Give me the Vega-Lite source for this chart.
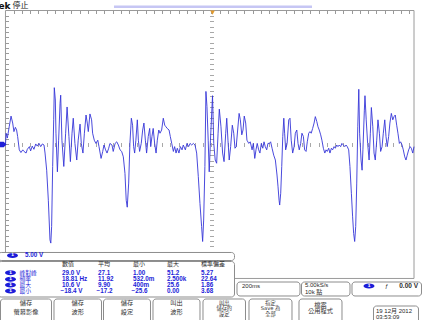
{
"$schema": "https://vega.github.io/schema/vega-lite/v6.json",
"width": 424, "height": 320, "autosize": "none", "padding": 0,
"background": "white",
"config": {"view": {"stroke": null}, "text": {"font": "DejaVu Sans, Noto Sans CJK TC"}},
"datasets": {
"vgrid": [{"t":-800},{"t":-600},{"t":-400},{"t":-200},{"t":0},{"t":200},{"t":400},{"t":600},{"t":800}],
"hgrid": [{"v":20},{"v":15},{"v":10},{"v":5},{"v":-5},{"v":-10},{"v":-15},{"v":-20}],
"hcenter": [{"v":0}],
"frame": [{"t":-1000,"t2":983,"v":25,"v2":-25}],
"bar": [{"t":-473.3,"t2":487.8,"v":25.71}],
"trig": [{"t":4.9,"v":24.6}],
"gnd": [{"t":-1014.5,"v":0}],
"wave": [
{"t":-1000,"v":-0.1},{"t":-997,"v":2.1},{"t":-991,"v":1.2},{"t":-982,"v":3.3},{"t":-973,"v":5.3},{"t":-965,"v":4.0},{"t":-959,"v":2.4},{"t":-952,"v":3.2},{"t":-946,"v":2.7},{"t":-941,"v":1.5},{"t":-933,"v":-1.0},{"t":-925,"v":-1.5},{"t":-916,"v":-1.0},{"t":-910,"v":-1.3},{"t":-900,"v":-1.6},{"t":-894,"v":-0.9},{"t":-884,"v":-0.4},{"t":-878,"v":-1.2},{"t":-870,"v":-0.3},{"t":-862,"v":-0.9},{"t":-853,"v":0.1},{"t":-846,"v":-0.3},{"t":-837,"v":0.2},{"t":-829,"v":-0.4},{"t":-821,"v":0.1},{"t":-813,"v":-0.1},{"t":-808,"v":-1.6},{"t":-800,"v":-4.8},{"t":-792,"v":-10.4},{"t":-784,"v":-17.8},{"t":-780,"v":-18.4},{"t":-776,"v":-15.3},{"t":-771,"v":-4.1},{"t":-766,"v":4.6},{"t":-763,"v":10.6},{"t":-758,"v":8.3},{"t":-755,"v":2.1},{"t":-748,"v":-5.1},{"t":-742,"v":0.8},{"t":-735,"v":7.7},{"t":-732,"v":9.2},{"t":-726,"v":0.8},{"t":-717,"v":-4.1},{"t":-708,"v":2.1},{"t":-701,"v":7.0},{"t":-692,"v":1.5},{"t":-685,"v":-3.2},{"t":-677,"v":2.1},{"t":-671,"v":4.9},{"t":-663,"v":0.2},{"t":-654,"v":-2.9},{"t":-647,"v":0.8},{"t":-638,"v":3.8},{"t":-632,"v":0.2},{"t":-624,"v":-1.6},{"t":-617,"v":2.1},{"t":-609,"v":5.5},{"t":-603,"v":4.0},{"t":-598,"v":2.4},{"t":-590,"v":5.7},{"t":-582,"v":4.6},{"t":-577,"v":2.1},{"t":-569,"v":0.8},{"t":-561,"v":0.2},{"t":-552,"v":0.8},{"t":-546,"v":-0.4},{"t":-536,"v":-2.6},{"t":-528,"v":-1.3},{"t":-522,"v":-0.1},{"t":-514,"v":-1.0},{"t":-507,"v":-1.6},{"t":-499,"v":-0.7},{"t":-493,"v":0.2},{"t":-483,"v":-0.1},{"t":-477,"v":-1.3},{"t":-468,"v":0.2},{"t":-460,"v":0.5},{"t":-452,"v":-0.1},{"t":-444,"v":-1.0},{"t":-436,"v":-1.3},{"t":-428,"v":-2.3},{"t":-420,"v":-5.4},{"t":-414,"v":-10.4},{"t":-409,"v":-11.7},{"t":-402,"v":-7.2},{"t":-396,"v":0.2},{"t":-389,"v":4.9},{"t":-383,"v":3.6},{"t":-378,"v":-0.4},{"t":-373,"v":-1.6},{"t":-367,"v":0.8},{"t":-360,"v":4.6},{"t":-355,"v":0.8},{"t":-349,"v":-1.3},{"t":-341,"v":0.2},{"t":-334,"v":2.7},{"t":-328,"v":4.0},{"t":-321,"v":0.8},{"t":-315,"v":-1.6},{"t":-307,"v":1.5},{"t":-300,"v":3.0},{"t":-295,"v":-0.4},{"t":-289,"v":1.5},{"t":-283,"v":3.0},{"t":-276,"v":0.2},{"t":-269,"v":-1.6},{"t":-263,"v":0.8},{"t":-256,"v":2.7},{"t":-250,"v":2.1},{"t":-242,"v":2.7},{"t":-234,"v":4.9},{"t":-227,"v":3.6},{"t":-221,"v":3.3},{"t":-215,"v":3.0},{"t":-206,"v":2.7},{"t":-200,"v":1.5},{"t":-193,"v":0.2},{"t":-185,"v":-1.3},{"t":-179,"v":-0.4},{"t":-172,"v":-1.6},{"t":-166,"v":-0.7},{"t":-158,"v":-1.6},{"t":-151,"v":-0.4},{"t":-143,"v":-1.0},{"t":-137,"v":-0.1},{"t":-127,"v":-1.0},{"t":-119,"v":0.2},{"t":-111,"v":-0.4},{"t":-104,"v":0.2},{"t":-96,"v":-0.1},{"t":-88,"v":0.2},{"t":-80,"v":-0.1},{"t":-72,"v":-1.6},{"t":-64,"v":-6.0},{"t":-56,"v":-11.0},{"t":-48,"v":-15.3},{"t":-43,"v":-18.1},{"t":-38,"v":-14.1},{"t":-32,"v":-4.1},{"t":-27,"v":9.9},{"t":-22,"v":7.1},{"t":-16,"v":0.8},{"t":-11,"v":-5.1},{"t":-5,"v":0.8},{"t":5,"v":9.1},{"t":11,"v":0.2},{"t":18,"v":-2.9},{"t":25,"v":-3.5},{"t":32,"v":2.1},{"t":38,"v":6.6},{"t":46,"v":3.3},{"t":54,"v":-1.6},{"t":61,"v":-3.2},{"t":69,"v":2.1},{"t":74,"v":4.9},{"t":80,"v":0.8},{"t":86,"v":-2.9},{"t":93,"v":-0.4},{"t":101,"v":3.6},{"t":108,"v":2.1},{"t":114,"v":-0.7},{"t":120,"v":-0.4},{"t":127,"v":2.7},{"t":134,"v":5.8},{"t":140,"v":4.6},{"t":147,"v":1.8},{"t":153,"v":2.7},{"t":159,"v":5.3},{"t":166,"v":4.0},{"t":172,"v":0.8},{"t":181,"v":0.2},{"t":188,"v":0.5},{"t":197,"v":-1.0},{"t":203,"v":0.2},{"t":210,"v":-2.6},{"t":216,"v":-1.0},{"t":222,"v":0.2},{"t":229,"v":-1.0},{"t":235,"v":-1.6},{"t":242,"v":0.2},{"t":249,"v":-0.7},{"t":255,"v":0.5},{"t":261,"v":-0.4},{"t":268,"v":-1.0},{"t":274,"v":0.2},{"t":281,"v":0.2},{"t":287,"v":0.5},{"t":294,"v":-0.7},{"t":302,"v":-2.0},{"t":310,"v":-2.9},{"t":318,"v":-5.7},{"t":323,"v":-7.9},{"t":328,"v":-10.4},{"t":331,"v":-11.3},{"t":336,"v":-9.1},{"t":341,"v":-4.1},{"t":346,"v":1.5},{"t":351,"v":4.9},{"t":355,"v":2.1},{"t":360,"v":-1.0},{"t":367,"v":0.2},{"t":375,"v":4.6},{"t":381,"v":4.9},{"t":387,"v":0.8},{"t":394,"v":-1.6},{"t":401,"v":-0.4},{"t":407,"v":2.1},{"t":414,"v":2.7},{"t":420,"v":0.2},{"t":426,"v":-1.0},{"t":433,"v":0.2},{"t":439,"v":2.1},{"t":446,"v":1.5},{"t":452,"v":-1.0},{"t":459,"v":-1.3},{"t":465,"v":0.5},{"t":472,"v":2.1},{"t":478,"v":2.4},{"t":484,"v":2.1},{"t":491,"v":3.0},{"t":498,"v":4.0},{"t":504,"v":5.2},{"t":511,"v":4.3},{"t":517,"v":3.3},{"t":523,"v":2.7},{"t":530,"v":1.8},{"t":536,"v":0.8},{"t":543,"v":-0.7},{"t":550,"v":-1.6},{"t":556,"v":-1.0},{"t":562,"v":-1.3},{"t":569,"v":-0.7},{"t":575,"v":-1.6},{"t":582,"v":-0.7},{"t":588,"v":-1.0},{"t":595,"v":-0.4},{"t":601,"v":-0.7},{"t":608,"v":-0.1},{"t":614,"v":-0.4},{"t":620,"v":-0.1},{"t":627,"v":-0.4},{"t":633,"v":0.2},{"t":640,"v":-0.1},{"t":647,"v":-0.4},{"t":653,"v":-0.1},{"t":659,"v":-0.4},{"t":666,"v":-1.0},{"t":672,"v":-4.1},{"t":679,"v":-9.1},{"t":685,"v":-13.5},{"t":690,"v":-16.6},{"t":695,"v":-18.1},{"t":700,"v":-15.3},{"t":705,"v":-7.2},{"t":710,"v":3.3},{"t":715,"v":10.3},{"t":719,"v":2.1},{"t":726,"v":-2.9},{"t":731,"v":-4.8},{"t":735,"v":-1.0},{"t":742,"v":6.4},{"t":745,"v":9.1},{"t":751,"v":4.6},{"t":758,"v":0.2},{"t":765,"v":-2.9},{"t":771,"v":2.1},{"t":776,"v":6.9},{"t":783,"v":3.3},{"t":789,"v":-1.6},{"t":795,"v":-2.9},{"t":802,"v":0.8},{"t":808,"v":4.6},{"t":815,"v":2.1},{"t":821,"v":-1.3},{"t":828,"v":-0.4},{"t":834,"v":2.1},{"t":841,"v":4.6},{"t":847,"v":1.5},{"t":853,"v":-0.4},{"t":860,"v":1.5},{"t":866,"v":4.0},{"t":873,"v":5.8},{"t":880,"v":4.6},{"t":886,"v":5.2},{"t":892,"v":5.5},{"t":899,"v":3.6},{"t":905,"v":2.1},{"t":912,"v":0.2},{"t":918,"v":0.5},{"t":925,"v":-0.1},{"t":931,"v":-1.0},{"t":938,"v":-2.3},{"t":944,"v":-2.9},{"t":950,"v":-2.0},{"t":957,"v":-1.0},{"t":964,"v":-0.4},{"t":970,"v":-0.7},{"t":977,"v":-1.6},{"t":983,"v":-0.4}
],
"boxes": [
{"t":-1035,"t2":111.6,"v":-20.15,"v2":-21.65},
{"t":-1035,"t2":111.6,"v":-21.83,"v2":-28.46},
{"t":123.8,"t2":429.6,"v":-25.66,"v2":-28.27},
{"t":436.9,"t2":672.3,"v":-25.66,"v2":-28.27},
{"t":682.0,"t2":1019.3,"v":-25.66,"v2":-28.27},
{"t":-1024.2,"t2":-776.6,"v":-28.83,"v2":-33.6},
{"t":-764.5,"t2":-533.9,"v":-28.83,"v2":-33.6},
{"t":-524.2,"t2":-296.1,"v":-28.83,"v2":-33.6},
{"t":-284.0,"t2":-55.8,"v":-28.83,"v2":-33.6},
{"t":-41.3,"t2":165.0,"v":-28.83,"v2":-33.6},
{"t":182.0,"t2":390.7,"v":-28.83,"v2":-33.6},
{"t":424.7,"t2":633.4,"v":-28.83,"v2":-33.6},
{"t":786.3,"t2":1004.8,"v":-30.14,"v2":-33.6}
],
"ellipses": [
{"t":-966,"v":-20.71},{"t":-975.7,"v":-23.92},{"t":-975.7,"v":-25.15},{"t":-975.7,"v":-26.22},{"t":-975.7,"v":-27.34},{"t":764.5,"v":-26.4}
],
"darkLeft": [
{"t":-725.7,"v":-22.39,"s":"數值"},{"t":-550.9,"v":-22.39,"s":"平均"},{"t":-381.0,"v":-22.39,"s":"最小"},{"t":-216.0,"v":-22.39,"s":"最大"},{"t":-51.0,"v":-22.39,"s":"標準偏差"},
{"t":148.0,"v":-26.4,"s":"200ms"},{"t":453.8,"v":-26.27,"s":"5.00kS/s"},{"t":453.8,"v":-27.58,"s":"10k 點"},{"t":842.2,"v":-26.4,"s":"ƒ"},
{"t":798.5,"v":-30.98,"s":"19 12月 2012"},{"t":798.5,"v":-32.10,"s":"03:53:09"}
],
"darkRight": [{"t":1002.4,"v":-26.4,"s":"0.00 V"}],
"btn2": [
{"t":-900.4,"v":-29.67,"s":"儲存"},{"t":-900.4,"v":-31.35,"s":"螢幕影像"},
{"t":-649.2,"v":-29.67,"s":"儲存"},{"t":-649.2,"v":-31.35,"s":"波形"},
{"t":-410.2,"v":-29.67,"s":"儲存"},{"t":-410.2,"v":-31.35,"s":"設定"},
{"t":-169.9,"v":-29.67,"s":"叫出"},{"t":-169.9,"v":-31.35,"s":"波形"},
{"t":529.1,"v":-29.86,"s":"檔案"},{"t":529.1,"v":-31.07,"s":"公用程式"}
],
"btn3": [
{"t":61.9,"v":-29.58,"s":"叫出"},{"t":61.9,"v":-30.6,"s":"儲存的"},{"t":61.9,"v":-31.63,"s":"設定"},
{"t":286.4,"v":-29.58,"s":"指定"},{"t":286.4,"v":-30.6,"s":"Save 為"},{"t":286.4,"v":-31.63,"s":"全部"}
],
"blueLabels": [
{"t":-931.9,"v":-23.92,"s":"峰對峰"},{"t":-931.9,"v":-25.15,"s":"頻率"},{"t":-931.9,"v":-26.22,"s":"最大"},{"t":-931.9,"v":-27.34,"s":"最小"}
],
"blueValues": [
{"t":-905.3,"v":-20.71,"s":"5.00 V"},
{"t":-725.7,"v":-23.92,"s":"29.0 V"},{"t":-550.9,"v":-23.92,"s":"27.1"},{"t":-381.0,"v":-23.92,"s":"1.00"},{"t":-216.0,"v":-23.92,"s":"51.2"},{"t":-51.0,"v":-23.92,"s":"5.27"},
{"t":-725.7,"v":-25.15,"s":"18.81 Hz"},{"t":-550.9,"v":-25.15,"s":"11.92"},{"t":-381.0,"v":-25.15,"s":"532.0m"},{"t":-216.0,"v":-25.15,"s":"2.500k"},{"t":-51.0,"v":-25.15,"s":"22.64"},
{"t":-725.7,"v":-26.22,"s":"10.6 V"},{"t":-550.9,"v":-26.22,"s":"9.90"},{"t":-381.0,"v":-26.22,"s":"400m"},{"t":-216.0,"v":-26.22,"s":"25.6"},{"t":-51.0,"v":-26.22,"s":"1.86"},
{"t":-733,"v":-27.34,"s":"−18.4 V"},{"t":-558,"v":-27.34,"s":"−17.2"},{"t":-388,"v":-27.34,"s":"−25.6"},{"t":-216.0,"v":-27.34,"s":"0.00"},{"t":-51.0,"v":-27.34,"s":"3.68"}
],
"tek": [{"t":-975.7,"v":25.8,"s":"Tek"}],
"stop": [{"t":-966,"v":25.8,"s":"停止"}]
},
"encoding": {
"x": {"field": "t", "type": "quantitative", "scale": {"domain": [-1026.6, 1031.5], "nice": false, "zero": false}, "axis": null},
"y": {"field": "v", "type": "quantitative", "scale": {"domain": [-32.75, 26.96], "nice": false, "zero": false}, "axis": null}
},
"layer": [
{"data": {"name": "vgrid"}, "mark": {"type": "rule", "color": "#b4b4b4", "strokeDash": [1, 3]}, "encoding": {"y": {"datum": 25}, "y2": {"datum": -25}}},
{"data": {"name": "hgrid"}, "mark": {"type": "rule", "color": "#b4b4b4", "strokeDash": [1, 3]}, "encoding": {"x": {"datum": -1000}, "x2": {"datum": 983}}},
{"data": {"name": "hcenter"}, "mark": {"type": "rule", "color": "#c4c4c4"}, "encoding": {"x": {"datum": -1000}, "x2": {"datum": 983}}},
{"data": {"name": "frame"}, "mark": {"type": "rect", "fillOpacity": 0, "stroke": "#9a9a9a", "strokeWidth": 1},
 "encoding": {
  "x": {"field": "t", "type": "quantitative", "scale": {"domain": [-1026.6, 1031.5], "nice": false, "zero": false},
        "axis": {"orient": "top", "offset": -10.5, "values": [-960,-920,-880,-840,-800,-760,-720,-680,-640,-600,-560,-520,-480,-440,-400,-360,-320,-280,-240,-200,-160,-120,-80,-40,0,40,80,120,160,200,240,280,320,360,400,440,480,520,560,600,640,680,720,760,800,840,880,920,960], "labels": false, "domain": false, "grid": false, "title": null, "tickSize": -3, "tickColor": "#9a9a9a"}},
  "x2": {"field": "t2"},
  "y": {"field": "v", "type": "quantitative", "scale": {"domain": [-32.75, 26.96], "nice": false, "zero": false},
        "axis": {"orient": "left", "offset": -5.5, "values": [-24,-23,-22,-21,-20,-19,-18,-17,-16,-15,-14,-13,-12,-11,-10,-9,-8,-7,-6,-5,-4,-3,-2,-1,0,1,2,3,4,5,6,7,8,9,10,11,12,13,14,15,16,17,18,19,20,21,22,23,24], "labels": false, "domain": false, "grid": false, "title": null, "tickSize": -3, "tickColor": "#9a9a9a"}},
  "y2": {"field": "v2"}
 }},
{"data": {"name": "frame"}, "mark": {"type": "point", "opacity": 0},
 "encoding": {
  "x": {"field": "t", "type": "quantitative", "scale": {"domain": [-1026.6, 1031.5], "nice": false, "zero": false},
        "axis": {"orient": "bottom", "offset": -173.5, "values": [-960,-920,-880,-840,-800,-760,-720,-680,-640,-600,-560,-520,-480,-440,-400,-360,-320,-280,-240,-200,-160,-120,-80,-40,0,40,80,120,160,200,240,280,320,360,400,440,480,520,560,600,640,680,720,760,800,840,880,920,960], "labels": false, "domain": false, "grid": false, "title": null, "tickSize": -4, "tickColor": "#a8a8a8"}},
  "y": {"field": "v", "type": "quantitative", "scale": {"domain": [-32.75, 26.96], "nice": false, "zero": false},
        "axis": {"orient": "right", "offset": -210.5, "values": [-24,-23,-22,-21,-20,-19,-18,-17,-16,-15,-14,-13,-12,-11,-10,-9,-8,-7,-6,-5,-4,-3,-2,-1,0,1,2,3,4,5,6,7,8,9,10,11,12,13,14,15,16,17,18,19,20,21,22,23,24], "labels": false, "domain": false, "grid": false, "title": null, "tickSize": -4, "tickColor": "#a8a8a8"}}
 }},
{"data": {"name": "wave"}, "mark": {"type": "line", "color": "#3636d8", "strokeWidth": 0.9}},
{"data": {"name": "bar"}, "mark": {"type": "rule", "color": "#c6c6f4", "strokeWidth": 2.5}, "encoding": {"x2": {"field": "t2"}}},
{"data": {"name": "trig"}, "mark": {"type": "point", "shape": "triangle-down", "filled": true, "color": "#e39b2e", "size": 22, "opacity": 1}},
{"data": {"name": "gnd"}, "mark": {"type": "point", "shape": "M -1 -0.7 L 0.3 -0.7 L 1 0 L 0.3 0.7 L -1 0.7 Z", "filled": true, "color": "#2020d8", "size": 64, "opacity": 1}},
{"data": {"name": "boxes"}, "mark": {"type": "rect", "fill": "white", "stroke": "#8c8c8c", "strokeWidth": 1, "cornerRadius": 3}, "encoding": {"x2": {"field": "t2"}, "y2": {"field": "v2"}}},
{"data": {"name": "ellipses"}, "mark": {"type": "point", "shape": "M -1 0 A 1 0.45 0 1 1 1 0 A 1 0.45 0 1 1 -1 0 Z", "filled": true, "color": "#1c1cd8", "size": 120, "opacity": 1}},
{"data": {"name": "ellipses"}, "mark": {"type": "text", "color": "white", "fontSize": 4.5, "fontWeight": "bold", "baseline": "middle", "align": "center"}, "encoding": {"text": {"value": "1"}}},
{"data": {"name": "darkLeft"}, "mark": {"type": "text", "color": "#2a2a2a", "fontSize": 6, "font": "Liberation Sans, Noto Sans CJK TC", "align": "left", "baseline": "middle"}, "encoding": {"text": {"field": "s"}}},
{"data": {"name": "darkRight"}, "mark": {"type": "text", "color": "#2a2a2a", "fontSize": 6.5, "font": "Liberation Sans", "fontWeight": "bold", "align": "right", "baseline": "middle"}, "encoding": {"text": {"field": "s"}}},
{"data": {"name": "btn2"}, "mark": {"type": "text", "color": "#333333", "fontSize": 6.2, "align": "center", "baseline": "middle"}, "encoding": {"text": {"field": "s"}}},
{"data": {"name": "btn3"}, "mark": {"type": "text", "color": "#333333", "fontSize": 5.2, "align": "center", "baseline": "middle"}, "encoding": {"text": {"field": "s"}}},
{"data": {"name": "blueLabels"}, "mark": {"type": "text", "color": "#1c1cd8", "fontSize": 5.8, "align": "left", "baseline": "middle"}, "encoding": {"text": {"field": "s"}}},
{"data": {"name": "blueValues"}, "mark": {"type": "text", "color": "#1c1cd8", "fontSize": 6.3, "font": "Liberation Sans", "fontWeight": "bold", "align": "left", "baseline": "middle"}, "encoding": {"text": {"field": "s"}}},
{"data": {"name": "tek"}, "mark": {"type": "text", "color": "#111111", "fontSize": 9, "fontWeight": "bold", "align": "right", "baseline": "middle"}, "encoding": {"text": {"field": "s"}}},
{"data": {"name": "stop"}, "mark": {"type": "text", "color": "#222222", "fontSize": 8, "align": "left", "baseline": "middle"}, "encoding": {"text": {"field": "s"}}}
]
}
